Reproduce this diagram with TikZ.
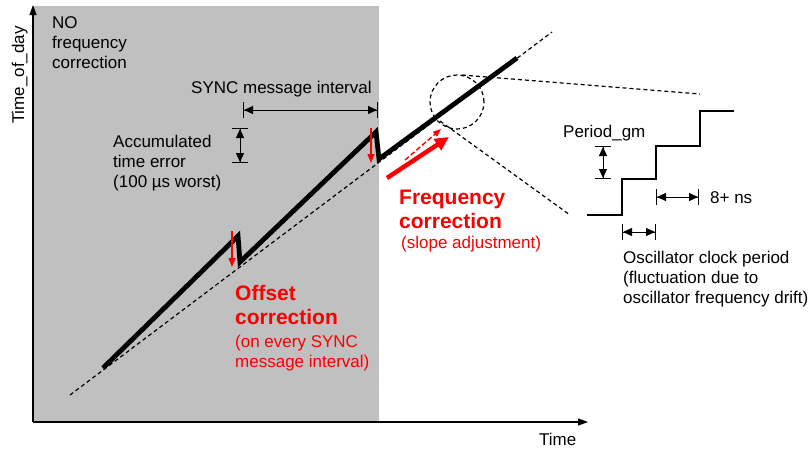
\documentclass[tikz,border=0pt]{standalone}
\usepackage{fontspec}
\setmainfont{Liberation Sans}
\usetikzlibrary{arrows.meta}
\definecolor{bggray}{RGB}{192,192,192}
\definecolor{cred}{RGB}{250,0,0}
\begin{document}
\begin{tikzpicture}[x=1pt,y=-1pt,
  lbl/.style={inner sep=0pt, anchor=base west, align=left, font=\fontsize{17}{20}\selectfont},
  redlbl/.style={lbl, text=cred},
  boldred/.style={inner sep=0pt, anchor=base west, align=left, text=cred, font=\fontsize{21}{24}\selectfont\bfseries},
  axisline/.style={line width=1.2pt, -{Triangle[length=10pt,width=7pt]}},
  guide/.style={dash pattern=on 4pt off 3pt, line width=1.2pt},
  dimline/.style={line width=1pt, {Bar[width=16pt]Triangle[length=9pt,width=8pt]}-{Triangle[length=9pt,width=8pt]Bar[width=16pt]}},
  thickline/.style={line width=4.8pt, line join=miter},
  stepline/.style={line width=1.2pt},
  offsetarrow/.style={cred, line width=1.4pt, -{Triangle[length=9pt,width=7pt]}},
]
\useasboundingbox (0,0) rectangle (812,448);
% shaded region
\fill[bggray] (33,6) rectangle (379,422);
% axes
\coordinate (O) at (33,422);
\coordinate (ytop) at (33,5);
\coordinate (xend) at (588,422);
\draw[axisline] (O) -- (ytop);
\draw[axisline] (O) -- (xend);
\node[lbl, rotate=90, anchor=base] (ylab) at (24,75) {Time\_of\_day};
\node[lbl] (xlab) at (539,445) {Time};

% reference dashed line
\coordinate (d0) at (70,395);
\coordinate (d1) at (552,32);
\draw[guide] (d0) -- (d1);

% sawtooth
\coordinate (s0) at (103,368);
\coordinate (p1) at (238,236);
\coordinate (b1) at (240,262);
\coordinate (p2) at (376,132);
\coordinate (b2) at (379,159);
\coordinate (s3) at (517,58);
\draw[thickline] (s0) -- (p1) -- (b1) -- (p2) -- (b2) -- (s3);

% offset correction arrows
\coordinate (oa1s) at (232,231);
\coordinate (oa1e) at (232,267);
\coordinate (oa2s) at (371,128);
\coordinate (oa2e) at (371,163);
\draw[offsetarrow] (oa1s) -- (oa1e);
\draw[offsetarrow] (oa2s) -- (oa2e);

% frequency correction arrows
\coordinate (fa0) at (387,178);
\coordinate (fa1) at (449,137);
\coordinate (fd0) at (405,160);
\coordinate (fd1) at (441,129);
\draw[cred, line width=1.4pt, dash pattern=on 5pt off 2.5pt, -{Triangle[length=8pt,width=6pt]}] (fd0) -- (fd1);
\draw[cred, line width=4.5pt, -{Triangle[length=14pt,width=13pt]}] (fa0) -- (fa1);

% zoom circle and callout lines
\coordinate (zc) at (457,102);
\draw[guide] (zc) circle[radius=27pt];
\coordinate (zt0) at (462,75);
\coordinate (zt1) at (700,94);
\coordinate (zb0) at (440,121);
\coordinate (zb1) at (570,215);
\draw[guide] (zt0) -- (zt1);
\draw[guide] (zb0) -- (zb1);

% staircase
\draw[stepline] (587,215) -- (622,215) -- (622,179) -- (656,179) -- (656,146) -- (700,146) -- (700,111) -- (734,111);

% dimension lines
\coordinate (sy0) at (243,110);
\coordinate (sy1) at (378,110);
\draw[dimline] (sy0) -- (sy1);
\coordinate (ae0) at (240,128);
\coordinate (ae1) at (240,163);
\draw[dimline] (ae0) -- (ae1);
\coordinate (pg0) at (603,146);
\coordinate (pg1) at (603,179);
\draw[dimline] (pg0) -- (pg1);
\coordinate (ns0) at (656,197);
\coordinate (ns1) at (699,197);
\draw[dimline] (ns0) -- (ns1);
\coordinate (cp0) at (622,232);
\coordinate (cp1) at (656,232);
\draw[dimline] (cp0) -- (cp1);

% labels (anchored at the baseline of their last line)
\node[lbl] (nofreq) at (52,68) {NO\\frequency\\correction};
\node[lbl] (sync) at (191,93) {SYNC message interval};
\node[lbl] (accum) at (113,187) {Accumulated\\time error\\(100 µs worst)};
\node[boldred] (freq) at (399,228) {Frequency\\correction};
\node[redlbl] (slope) at (401,248) {(slope adjustment)};
\node[boldred] (offset) at (235,324) {Offset\\correction};
\node[redlbl] (every) at (235,367) {(on every SYNC\\message interval)};
\node[lbl] (pgm) at (563,137) {Period\_gm};
\node[lbl] (ns) at (710,203) {8+ ns};
\node[lbl] (osc) at (623,303) {Oscillator clock period\\(fluctuation due to\\oscillator frequency drift)};
\end{tikzpicture}
\end{document}
